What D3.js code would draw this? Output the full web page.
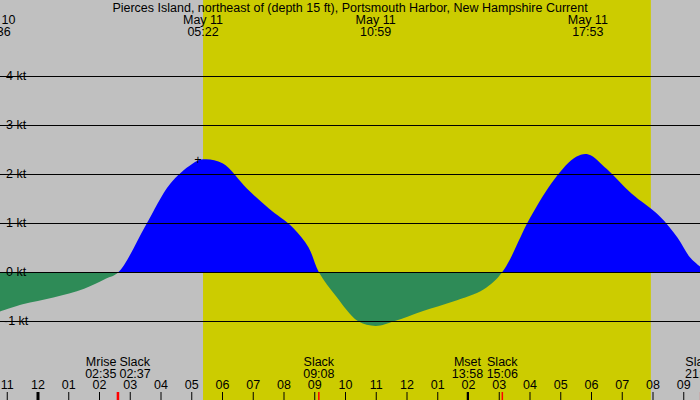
<!DOCTYPE html>
<html><head><meta charset="utf-8">
<script src="https://cdn.jsdelivr.net/npm/d3@7"></script>
<style>body{margin:0;background:#c0c0c0}svg{display:block;font-family:"Liberation Sans",Arial,sans-serif;font-size:12.5px}</style>
</head><body><svg id="chart" width="700" height="400"></svg>
<script>
// hours from midnight May 11, current in knots
const hours = [-1.3,-0.5,0.5,1.5,2.2,2.62,3.5,4.3,5.0,5.37,6.0,6.8,7.5,8.3,8.8,9.13,9.7,10.4,10.98,11.6,12.5,13.5,14.5,15.1,16.0,16.8,17.5,17.9,18.5,19.3,20.2,20.8,21.2,21.55];
const knots = [-0.82,-0.66,-0.52,-0.34,-0.14,0,0.95,1.8,2.2,2.3,2.22,1.7,1.3,0.9,0.5,0,-0.5,-1.0,-1.1,-1.0,-0.8,-0.6,-0.35,0,1.1,1.9,2.35,2.4,2.1,1.6,1.15,0.7,0.3,0.1];
const ktTicks = [-1,0,1,2,3,4];
const hourTicks = d3.range(-1,22);
const daylight = [5.367, 19.93];
const topLabels = [{h:-1.4,d:"May 10",t:"22:36"},{h:5.367,d:"May 11",t:"05:22"},{h:10.98,d:"May 11",t:"10:59"},{h:17.88,d:"May 11",t:"17:53"}];
const events = [{h:2.583,n:"Mrise",t:"02:35",red:true,a:"end"},{h:2.617,n:"Slack",t:"02:37",red:true,a:"start"},
  {h:9.133,n:"Slack",t:"09:08",red:true,a:"middle"},{h:13.967,n:"Mset",t:"13:58",red:false,a:"middle"},
  {h:15.1,n:"Slack",t:"15:06",red:true,a:"middle"},{h:21.55,n:"Slack",t:"21:33",red:true,a:"middle"}];

const svg = d3.select("#chart");
const x = d3.scaleLinear().domain([0,1]).range([38,68.75]);
const y = d3.scaleLinear().domain([0,1]).range([272,223]);

svg.append("rect").attr("x",x(daylight[0])).attr("y",0).attr("width",x(daylight[1])-x(daylight[0])).attr("height",400).attr("fill","#cccc00");

const pts = hours.map((h,i)=>[h,knots[i]]);
const area = d3.area().x(d=>x(d[0])).y0(y(0)).y1(d=>y(d[1])).curve(d3.curveCatmullRom);
svg.append("clipPath").attr("id","pos").append("rect").attr("x",0).attr("y",0).attr("width",700).attr("height",y(0));
svg.append("clipPath").attr("id","neg").append("rect").attr("x",0).attr("y",y(0)).attr("width",700).attr("height",400);
svg.append("path").datum(pts).attr("d",area).attr("fill","#0000ff").attr("clip-path","url(#pos)");
svg.append("path").datum(pts).attr("d",area).attr("fill","#2e8b57").attr("clip-path","url(#neg)");

ktTicks.forEach(k=>{
  svg.append("line").attr("x1",0).attr("x2",700).attr("y1",y(k)+0.5).attr("y2",y(k)+0.5).attr("stroke","#000");
  svg.append("text").attr("x",k<0?4:6).attr("y",y(k)+4).text((k<0?"-"+(-k):k)+" kt");
});
svg.append("text").attr("x",x(5.2)).attr("y",y(2.3)+5).attr("text-anchor","middle").text("+");

svg.append("text").attr("x",350).attr("y",12).attr("text-anchor","middle").text("Pierces Island, northeast of (depth 15 ft), Portsmouth Harbor, New Hampshire Current");
topLabels.forEach(l=>{
  svg.append("text").attr("x",x(l.h)).attr("y",24).attr("text-anchor","middle").text(l.d);
  svg.append("text").attr("x",x(l.h)).attr("y",36).attr("text-anchor","middle").text(l.t);
});

hourTicks.forEach(h=>{
  const hh = ((h%12)+12)%12 || 12;
  svg.append("text").attr("x",x(h)).attr("y",389).attr("text-anchor","middle").text(d3.format("02")(hh));
  svg.append("line").attr("x1",x(h)).attr("x2",x(h)).attr("y1",392).attr("y2",400).attr("stroke","#000").attr("stroke-width",h===0?3:1);
});
events.forEach(e=>{
  const off = e.a==="end"?-1:e.a==="start"?1:0;
  svg.append("text").attr("x",x(e.h)+off).attr("y",366).attr("text-anchor",e.a).text(e.n);
  svg.append("text").attr("x",x(e.h)+off).attr("y",378).attr("text-anchor",e.a).text(e.t);
  svg.append("line").attr("x1",x(e.h)).attr("x2",x(e.h)).attr("y1",392).attr("y2",400).attr("stroke",e.red?"#ff0000":"#000").attr("stroke-width",1.5);
});
</script></body></html>
